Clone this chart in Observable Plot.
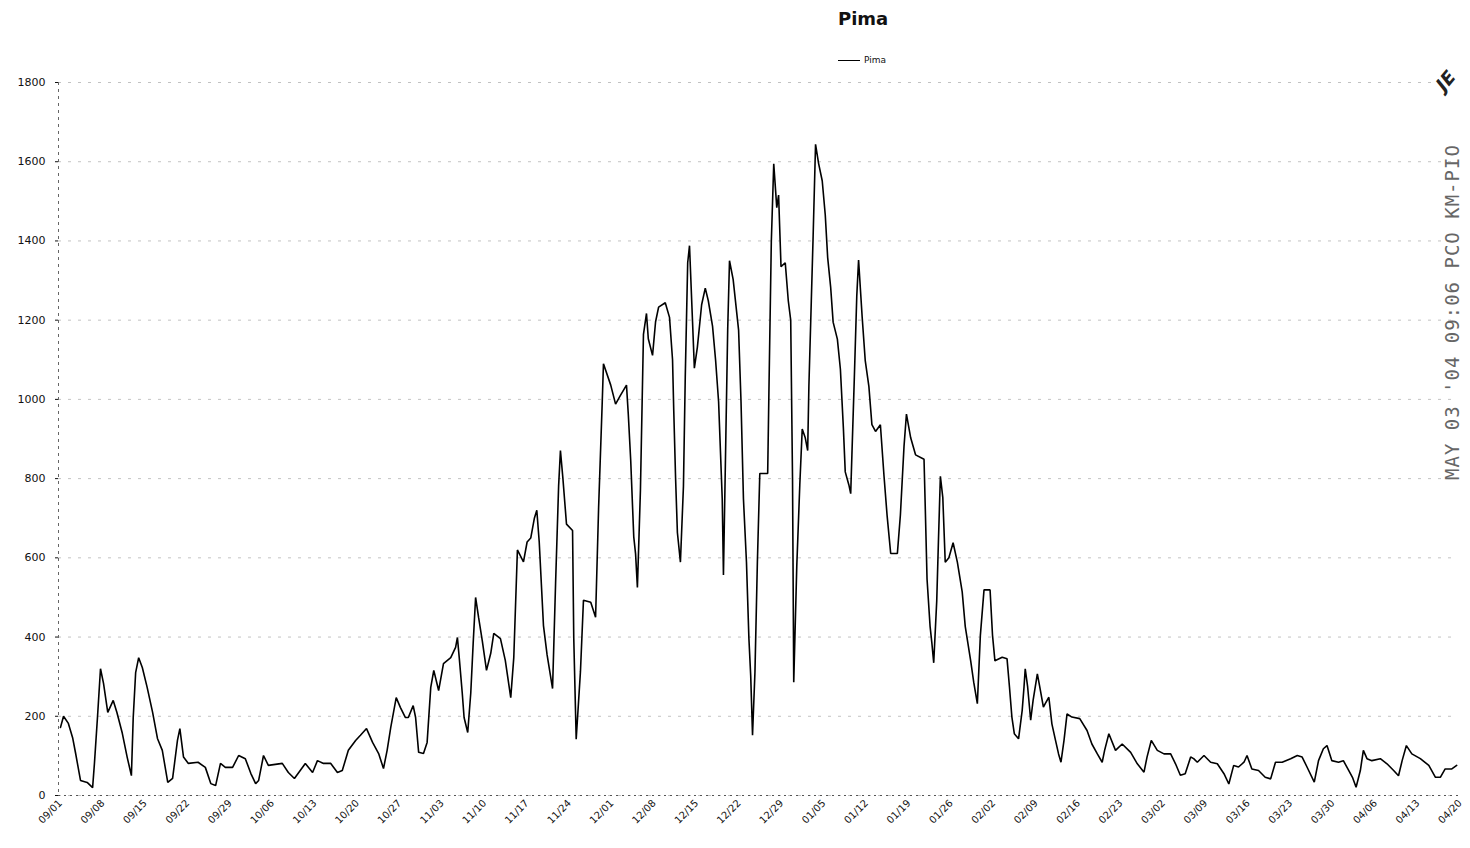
<!DOCTYPE html>
<html>
<head>
<meta charset="utf-8">
<script src="https://cdn.jsdelivr.net/npm/d3@7"></script>
<script src="https://cdn.jsdelivr.net/npm/@observablehq/plot@0.6"></script>
<style>
  body { margin: 0; background: #fff; }
  #wrap { position: relative; width: 1470px; height: 848px; overflow: hidden; font-family: "DejaVu Sans", sans-serif; }
  #head { position: relative; height: 72px; }
  #title { position: absolute; left: 838px; top: 8px; font-weight: bold; font-size: 18px; color: #111; }
  #legend { position: absolute; left: 838px; top: 55px; font-size: 9px; color: #111; display: flex; align-items: center; gap: 4px; }
  #legend .sw { width: 22px; height: 0; border-top: 1.6px solid #000; }
  #stamp { position: absolute; left: 1441px; top: 480px; transform-origin: 0 0; transform: rotate(-90deg); white-space: nowrap;
           font-family: "DejaVu Sans Mono", monospace; font-size: 19px; color: #666; letter-spacing: 1px; }
  #initials { position: absolute; left: 1436px; top: 70px; font-size: 18px; font-style: italic; font-weight: bold; color: #222; transform: rotate(-50deg); }
</style>
</head>
<body>
<div id="wrap">
  <div id="head">
    <div id="title">Pima</div>
    <div id="legend"><span class="sw"></span><span>Pima</span></div>
  </div>
  <div id="chart"></div>
  <div id="stamp">MAY 03 '04 09:06 PCO KM-PIO</div>
  <div id="initials">JE</div>
</div>
<script>
// ---- data ----
const seriesName = "Pima";
const startDate = "2002-09-01";
const dayOffset = [
  0, 0.5, 1.3, 2.0, 2.5, 3.3, 4.4, 5.3, 5.6, 6.1, 6.6, 7.1, 7.8, 8.7, 9.3, 10.2, 11.0, 11.7, 12.0, 12.4,
  12.9, 13.5, 14.3, 15.2, 16.0, 16.8, 17.7, 18.5, 19.3, 19.7, 20.3, 21.1, 22.7, 23.9, 24.8, 25.6, 26.4, 27.2, 28.4, 29.4,
  30.5, 31.4, 32.2, 32.7, 33.5, 34.3, 36.6, 37.6, 38.6, 40.4, 41.6, 42.4, 43.4, 44.6, 45.7, 46.5, 47.5, 48.7, 49.5, 50.5,
  51.5, 52.5, 53.3, 53.9, 54.5, 55.4, 56.1, 56.9, 57.4, 58.2, 58.6, 59.1, 59.9, 60.5, 61.1, 61.6, 62.4, 63.2, 64.4, 65.2,
  65.5, 65.8, 66.3, 66.6, 67.2, 67.7, 68.1, 68.5, 69.0, 69.6, 70.3, 71.0, 71.5, 72.6, 73.4, 74.3, 74.8, 75.4, 76.4, 77.0,
  77.6, 78.2, 78.6, 79.0, 79.7, 80.3, 81.2, 81.7, 82.2, 82.5, 82.9, 83.5, 84.5, 84.7, 85.1, 85.8, 86.3, 87.5, 88.3, 88.8,
  89.4, 89.6, 90.8, 91.6, 92.4, 93.4, 93.7, 94.1, 94.6, 94.9, 95.2, 95.7, 96.2, 96.7, 97.0, 97.7, 98.2, 98.7, 99.8, 100.5,
  101.0, 101.2, 101.5, 101.8, 102.3, 102.8, 103.1, 103.5, 103.8, 104.3, 104.6, 105.1, 105.8, 106.4, 106.9, 107.6, 108.1, 108.6, 109.2, 109.4,
  109.8, 110.1, 110.4, 111.0, 111.9, 112.3, 112.7, 113.2, 113.6, 113.9, 114.2, 114.6, 115.0, 115.4, 116.7, 116.9, 117.3, 117.7, 118.2, 118.5,
  118.9, 119.6, 120.1, 120.5, 120.8, 121.0, 121.5, 122.0, 122.4, 122.9, 123.3, 123.5, 123.9, 124.2, 124.6, 125.1, 125.7, 126.2, 126.6, 127.1,
  127.5, 128.2, 128.7, 129.2, 129.5, 130.1, 130.4, 130.6, 131.0, 131.4, 131.7, 132.3, 132.8, 133.4, 133.9, 134.5, 135.3, 135.9, 136.4, 137.0,
  138.1, 138.6, 139.2, 139.6, 140.3, 141.1, 142.5, 142.7, 143.0, 143.5, 143.8, 144.1, 144.6, 144.9, 145.2, 145.6, 146.0, 146.6, 147.3, 148.0,
  148.8, 149.3, 150.2, 150.7, 151.3, 151.8, 152.4, 153.4, 153.8, 154.2, 155.4, 156.2, 156.6, 157.0, 157.4, 158.1, 158.7, 159.0, 159.2, 159.6,
  160.1, 160.5, 161.2, 161.6, 162.2, 162.5, 163.1, 163.6, 164.2, 164.7, 165.1, 165.6, 166.1, 166.9, 168.2, 169.4, 170.2, 171.1, 171.9, 172.3,
  173.0, 174.1, 175.2, 176.6, 177.7, 178.8, 179.3, 180.0, 181.0, 182.1, 183.2, 184.0, 184.8, 185.6, 186.5, 187.0, 187.6, 188.7, 189.8, 190.9,
  192.0, 192.8, 193.6, 194.4, 195.3, 195.8, 196.6, 197.7, 198.8, 199.7, 200.5, 201.6, 203.0, 204.1, 204.9, 205.7, 206.9, 207.6, 208.4, 209.0,
  209.8, 210.9, 211.7, 212.6, 213.2, 213.8, 214.5, 215.0, 215.6, 216.4, 217.8, 218.9, 220.0, 220.8, 221.4, 222.1, 223.0, 224.4, 225.8, 226.9,
  227.7, 228.5, 229.6, 230.4
];
const pima = [
  172, 200, 182, 146, 106, 38, 33, 20, 81, 197, 320, 283, 210, 240, 210, 157, 97, 50, 197, 310,
  348, 323, 273, 210, 144, 114, 33, 43, 139, 169, 97, 81, 84, 71, 30, 25, 81, 71, 71, 101,
  93, 56, 30, 38, 101, 76, 81, 58, 43, 81, 58, 88, 81, 81, 58, 63, 114, 139, 152, 169,
  134, 106, 68, 114, 172, 247, 222, 197, 197, 227, 197, 109, 106, 134, 273, 316, 265, 333, 348, 374,
  399, 348, 258, 197, 159, 258, 384, 500, 449, 391, 316, 359, 409, 396, 341, 247, 348, 620, 590, 640,
  650, 700, 720, 640, 429, 355, 270, 536, 781, 871, 802, 685, 669, 397, 142, 312, 493, 488, 450, 727,
  994, 1090, 1036, 988, 1010, 1036, 962, 845, 653, 610, 525, 770, 1164, 1217, 1153, 1111, 1196, 1233, 1244, 1207,
  1100, 972, 802, 664, 589, 781, 1058, 1345, 1388, 1196, 1079, 1132, 1239, 1281, 1249, 1185, 1100, 994, 749, 557,
  908, 1175, 1350, 1303, 1175, 994, 749, 589, 397, 302, 152, 312, 589, 813, 813, 1015, 1398, 1595, 1484, 1516,
  1335, 1345, 1249, 1200, 800, 286, 578, 784, 925, 903, 871, 1033, 1249, 1412, 1644, 1596, 1552, 1466, 1358, 1282,
  1195, 1152, 1076, 925, 817, 784, 762, 860, 1055, 1260, 1352, 1206, 1098, 1033, 936, 919, 936, 806, 708, 611,
  611, 708, 882, 963, 903, 860, 849, 730, 546, 427, 384, 335, 492, 654, 806, 752, 589, 600, 638, 589,
  514, 427, 340, 286, 232, 405, 519, 519, 405, 340, 349, 345, 274, 198, 156, 143, 215, 274, 320, 274,
  190, 240, 307, 274, 223, 232, 248, 181, 139, 105, 84, 139, 206, 198, 194, 164, 130, 105, 84, 114,
  156, 114, 130, 109, 80, 59, 97, 139, 114, 105, 105, 80, 51, 55, 97, 93, 84, 101, 84, 80,
  55, 29, 76, 72, 84, 101, 67, 63, 46, 42, 84, 84, 93, 101, 97, 72, 34, 88, 118, 126,
  88, 84, 88, 63, 46, 21, 63, 114, 93, 88, 93, 80, 63, 50, 88, 126, 105, 93, 76, 46,
  46, 67, 67, 76
];
const tickDates = [
  "2002-09-01", "2002-09-08", "2002-09-15", "2002-09-22", "2002-09-29", "2002-10-06", "2002-10-13",
  "2002-10-20", "2002-10-27", "2002-11-03", "2002-11-10", "2002-11-17", "2002-11-24", "2002-12-01",
  "2002-12-08", "2002-12-15", "2002-12-22", "2002-12-29", "2003-01-05", "2003-01-12", "2003-01-19",
  "2003-01-26", "2003-02-02", "2003-02-09", "2003-02-16", "2003-02-23", "2003-03-02", "2003-03-09",
  "2003-03-16", "2003-03-23", "2003-03-30", "2003-04-06", "2003-04-13", "2003-04-20"
];
const yTicks = [0, 200, 400, 600, 800, 1000, 1200, 1400, 1600, 1800];

// ---- build ----
const DAY = 864e5;
const t0 = new Date(startDate + "T00:00:00Z").getTime();
const rows = dayOffset.map((d, i) => ({date: new Date(t0 + d * DAY), value: pima[i], series: seriesName}));
const ticks = tickDates.map(s => new Date(s + "T00:00:00Z"));

const chart = Plot.plot({
  width: 1470,
  height: 776,
  marginTop: 10,
  marginBottom: 53,
  marginLeft: 58,
  marginRight: 12,
  style: {fontFamily: "'DejaVu Sans', sans-serif", fontSize: "10px", color: "#111", background: "#fff", overflow: "visible"},
  x: {
    type: "utc",
    domain: [new Date(t0 - 0.33 * DAY), new Date(t0 + 230.7 * DAY)],
    ticks: ticks,
    tickFormat: d3.utcFormat("%m/%d"),
    tickRotate: -45,
    tickSize: 0,
    tickPadding: 6,
    label: null
  },
  y: {domain: [0, 1800], ticks: yTicks, tickFormat: d => String(d), tickSize: 3, tickPadding: 10, label: null},
  marks: [
    Plot.gridY(yTicks, {stroke: "#666", strokeOpacity: 0.4, strokeDasharray: "3,7"}),
    Plot.ruleY([0], {stroke: "#555", strokeDasharray: "2,4"}),
    Plot.frame({anchor: "left", stroke: "#666", strokeDasharray: "2,5"}),
    Plot.lineY(rows, {x: "date", y: "value", stroke: "#000", strokeWidth: 1.6, strokeLinejoin: "miter"})
  ]
});
chart.querySelectorAll("[aria-label='y-axis tick label'] text").forEach(t => t.setAttribute("font-size", "11"));
document.getElementById("chart").appendChild(chart);
</script>
</body>
</html>
